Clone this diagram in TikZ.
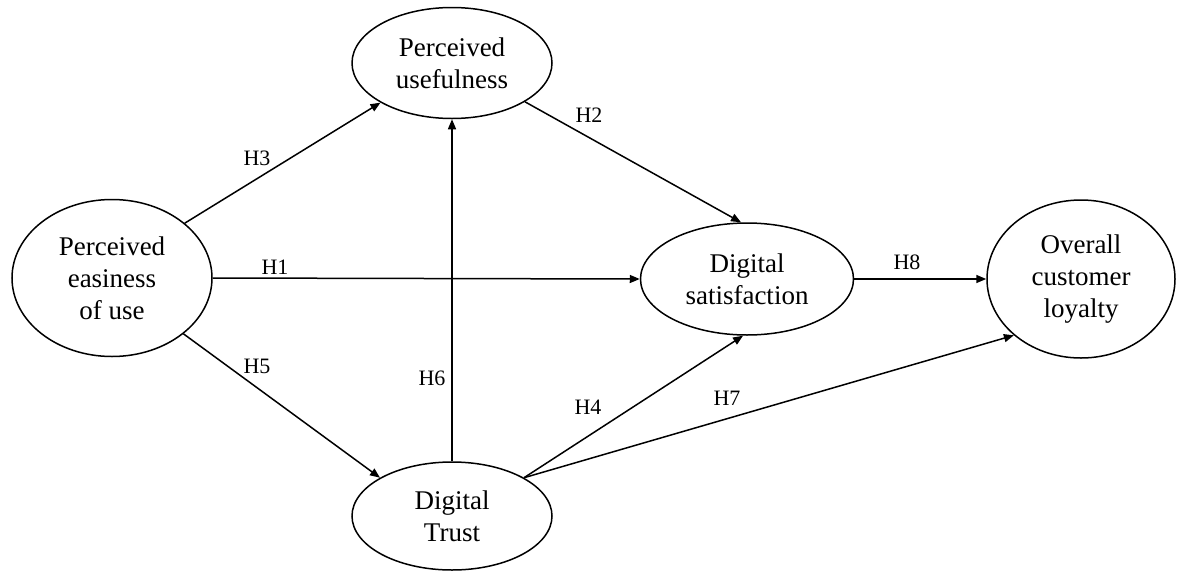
\documentclass[tikz,border=0pt]{standalone}
\usepackage{fontspec}
\setmainfont{Liberation Serif}
\usetikzlibrary{shapes.geometric,arrows.meta}
\begin{document}
\begin{tikzpicture}[x=1pt,y=-1pt,
  construct/.style={draw,ellipse,line width=1.5pt,inner sep=0pt,align=center,
    font=\fontsize{27}{32}\selectfont},
  hyp/.style={font=\fontsize{22}{26}\selectfont,inner sep=0pt},
  link/.style={line width=1.5pt,-{Triangle[length=10pt,width=8pt]}}]
\useasboundingbox (0,0) rectangle (1179,571);
\node[construct,minimum width=200pt,minimum height=157pt] (peu) at (112,278) {Perceived\\easiness\\of use};
\node[construct,minimum width=200pt,minimum height=111pt] (pu) at (452,63) {Perceived\\usefulness};
\node[construct,minimum width=213pt,minimum height=112pt] (ds) at (747,279) {Digital\\satisfaction};
\node[construct,minimum width=188pt,minimum height=158pt] (ocl) at (1081,279) {Overall\\customer\\loyalty};
\node[construct,minimum width=200pt,minimum height=108pt] (dt) at (452,516) {Digital\\Trust};
\draw[link] (peu.37.8) -- (pu.209);
\draw[link] (peu.east) -- (ds.west);
\draw[link] (peu.-38.8) -- (dt.152.2);
\draw[link] (pu.-28.8) -- (ds.96);
\draw[link] (dt.north) -- (pu.south);
\draw[link] (dt.28.2) -- (ds.266);
\draw[link] (dt.28.2) -- (ocl.220.3);
\draw[link] (ds.east) -- (ocl.west);
\node[hyp] (h3) at (257,158) {H3};
\node[hyp] (h1) at (275,267) {H1};
\node[hyp] (h5) at (257,366) {H5};
\node[hyp] (h6) at (432,378) {H6};
\node[hyp] (h2) at (589,115) {H2};
\node[hyp] (h4) at (588,407) {H4};
\node[hyp] (h7) at (727,398) {H7};
\node[hyp] (h8) at (907,262) {H8};
\end{tikzpicture}
\end{document}
